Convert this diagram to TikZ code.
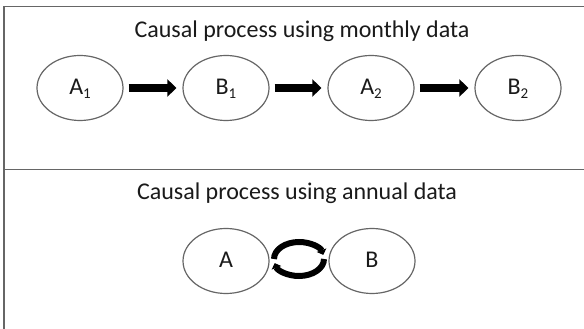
\documentclass[tikz,border=0pt]{standalone}
\usepackage{fontspec}
\setmainfont{Carlito}
\usetikzlibrary{arrows.meta,shapes.geometric}

\definecolor{framegray}{HTML}{666666}
\definecolor{rimgray}{HTML}{666666}
\definecolor{inkgray}{HTML}{1A1A1A}

\newcommand{\sub}[1]{\raisebox{-4pt}{\fontsize{15}{15}\selectfont #1}}

\tikzset{
  frameline/.style={draw=framegray, line width=1.8pt},
  ell/.style={ellipse, draw=rimgray, line width=1.2pt, minimum width=86pt, minimum height=65pt, inner sep=0pt},
  lab/.style={anchor=base, inner sep=0pt, text=inkgray, font=\fontsize{24}{28}\selectfont},
  title/.style={anchor=base, inner sep=0pt, text=inkgray, font=\fontsize{24}{28}\selectfont},
  blockarrow/.style={draw=black, line width=8pt, -{Triangle[length=9pt, width=17pt]},
                     shorten <=5pt, shorten >=6pt},
  circarrow/.style={draw=black, line width=6pt, -{Triangle[length=5pt, width=10pt]}}
}

\begin{document}
\begin{tikzpicture}[x=1pt, y=1pt]
  \useasboundingbox (0,0) rectangle (584,329);
  \fill[white] (0,0) rectangle (584,329);

  % outline of the two panels
  \draw[frameline] (584,322.5) -- (4.3,322.5) -- (4.3,0);
  \draw[frameline] (4.3,159.5) -- (584,159.5);

  % upper panel: monthly chain
  \node[title] (t1) at (302,291) {Causal process using monthly data};

  \node[ell] (a1) at (80,241) {};
  \node[ell] (b1) at (226,241) {};
  \node[ell] (a2) at (371,241) {};
  \node[ell] (b2) at (518,241) {};

  \node[lab] (la1) at (80,234) {A\sub{1}};
  \node[lab] (lb1) at (226,234) {B\sub{1}};
  \node[lab] (la2) at (371,234) {A\sub{2}};
  \node[lab] (lb2) at (518,234) {B\sub{2}};

  \draw[blockarrow] (a1) -- (b1);
  \draw[blockarrow] (b1) -- (a2);
  \draw[blockarrow] (a2) -- (b2);

  % lower panel: annual feedback
  \node[title] (t2) at (297,129) {Causal process using annual data};

  \node[ell] (a) at (226,68) {};
  \node[ell] (b) at (372,68) {};
  \node[lab] (la) at (226,61) {A};
  \node[lab] (lb) at (372,61) {B};

  \coordinate (c) at (299,70);
  \draw[circarrow] ([shift={(180:25 and 17)}]c)
      arc[start angle=180, end angle=14, x radius=25, y radius=17];
  \draw[circarrow] ([shift={(0:25 and 17)}]c)
      arc[start angle=0, end angle=-166, x radius=25, y radius=17];
\end{tikzpicture}
\end{document}
